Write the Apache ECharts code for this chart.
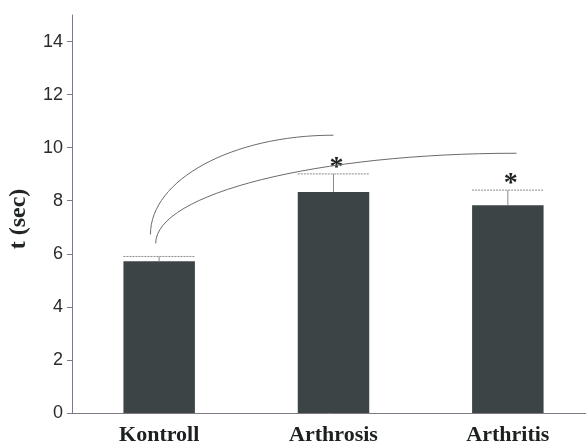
<!DOCTYPE html>
<html>
<head>
<meta charset="utf-8">
<script src="https://cdn.jsdelivr.net/npm/echarts@6/dist/echarts.min.js"></script>
<style>
  html, body { margin: 0; padding: 0; background: #fff; }
  #chart { width: 586px; height: 446px; }
</style>
</head>
<body>
<div id="chart"></div>
<script>
// Group names and mean response time (seconds)
const categories = ['Kontroll', 'Arthrosis', 'Arthritis'];
const meanTime = [5.72, 8.33, 7.83];
// Upper end of the error bar (mean + SD)
const errUpper = [5.9, 9.01, 8.40];
// Significance marker above each group
const sigMarks = ['', '*', '*'];
// Comparison arcs: start and end points in [group position, seconds]
const arcStart = [[-0.05, 6.73], [-0.02, 6.39]];
const arcEnd = [[1.0, 10.47], [2.05, 9.79]];
// Y-axis ticks
const yTicks = [0, 2, 4, 6, 8, 10, 12, 14];

const BAR_RATIO = 0.41;
const chart = echarts.init(document.getElementById('chart'), null, { renderer: 'canvas' });

const errData = categories.map((c, i) => [i, meanTime[i], errUpper[i]]);
const starData = categories.map((c, i) => [i, errUpper[i], sigMarks[i]]).filter(d => d[2]);
const arcData = arcStart.map((s, i) => [s[0], s[1], arcEnd[i][0], arcEnd[i][1]]);

chart.setOption({
  animation: false,
  grid: { left: 72, right: -9, top: 15, bottom: 33, containLabel: false, outerBoundsMode: 'none' },
  xAxis: [
    {
      type: 'category',
      data: categories,
      axisLine: { onZero: false, lineStyle: { color: '#7d7886', width: 1 } },
      axisTick: { show: false },
      axisLabel: {
        margin: 11,
        color: '#1c2021',
        fontFamily: 'Liberation Serif',
        fontWeight: 'bold',
        fontSize: 22
      }
    },
    {
      type: 'value',
      min: -0.5,
      max: 2.5,
      show: false
    }
  ],
  yAxis: {
    type: 'value',
    min: 0,
    max: 15,
    interval: 1,
    name: 't (sec)',
    nameLocation: 'middle',
    nameRotate: 90,
    nameGap: 41,
    nameTextStyle: {
      fontFamily: 'Liberation Serif',
      fontWeight: 'bold',
      fontSize: 24,
      color: '#222627',
      padding: [0, 10, 0, 0]
    },
    splitLine: { show: false },
    axisLine: { show: true, onZero: false, lineStyle: { color: '#7d7886', width: 1 } },
    axisTick: { show: true, length: 5, customValues: yTicks, lineStyle: { color: '#7d7886' } },
    axisLabel: {
      customValues: yTicks,
      margin: 9,
      color: '#2b2b2b',
      fontFamily: 'Liberation Sans',
      fontSize: 18
    }
  },
  series: [
    {
      type: 'bar',
      data: meanTime,
      barWidth: (BAR_RATIO * 100) + '%',
      itemStyle: { color: '#3d4446' },
      z: 2
    },
    {
      // error bars: dotted cap across the bar and a thin stem
      type: 'custom',
      data: errData,
      z: 3,
      renderItem: function (params, api) {
        const base = api.coord([api.value(0), api.value(1)]);
        const top = api.coord([api.value(0), api.value(2)]);
        const half = api.size([1, 0])[0] * BAR_RATIO / 2;
        return {
          type: 'group',
          children: [
            {
              type: 'line',
              shape: { x1: base[0], y1: base[1], x2: top[0], y2: top[1] },
              style: { stroke: '#8a8a8a', lineWidth: 1 }
            },
            {
              type: 'line',
              shape: { x1: top[0] - half, y1: top[1], x2: top[0] + half, y2: top[1] },
              style: { stroke: '#8a8a8a', lineWidth: 1, lineDash: [2, 1] }
            }
          ]
        };
      }
    },
    {
      // significance asterisks
      type: 'custom',
      data: starData,
      z: 4,
      renderItem: function (params, api) {
        const p = api.coord([api.value(0), api.value(1)]);
        return {
          type: 'text',
          x: p[0] + 3,
          y: p[1] - 6,
          style: {
            text: sigMarks[api.value(0)],
            font: 'bold 28px "Liberation Serif"',
            fill: '#1f2324',
            align: 'center',
            verticalAlign: 'middle'
          }
        };
      }
    },
    {
      // comparison arcs (quarter-ellipse shaped)
      type: 'custom',
      xAxisIndex: 1,
      data: arcData,
      z: 5,
      renderItem: function (params, api) {
        const a = api.coord([api.value(0), api.value(1)]);
        const b = api.coord([api.value(2), api.value(3)]);
        const k = 0.5523;
        return {
          type: 'bezierCurve',
          shape: {
            x1: a[0], y1: a[1],
            cpx1: a[0], cpy1: a[1] + k * (b[1] - a[1]),
            cpx2: b[0] - k * (b[0] - a[0]), cpy2: b[1],
            x2: b[0], y2: b[1]
          },
          style: { stroke: '#6a6a6a', lineWidth: 1, fill: null }
        };
      }
    }
  ]
});
</script>
</body>
</html>
